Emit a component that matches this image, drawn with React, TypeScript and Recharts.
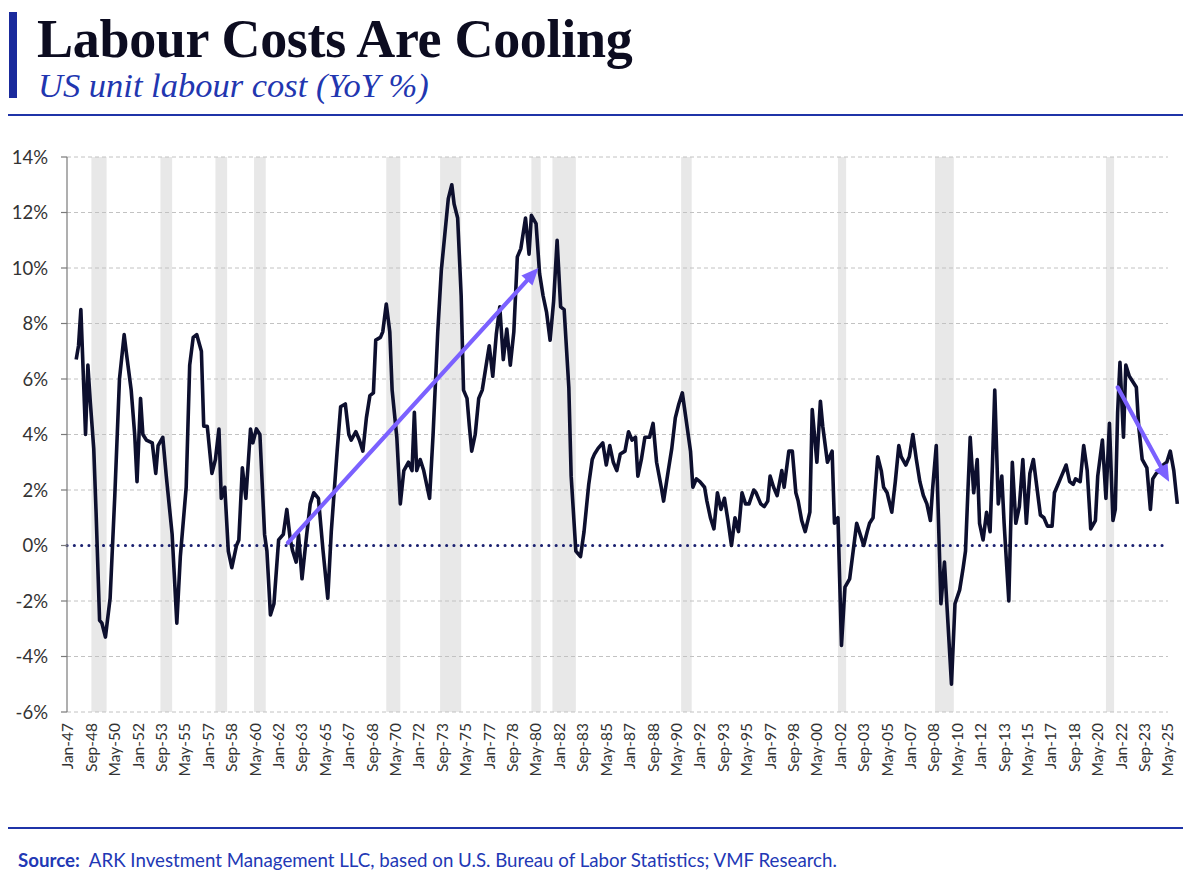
import React from 'react';
import { LineChart, Line, XAxis, YAxis, ReferenceArea, ReferenceLine } from 'recharts';

// months since Jan-1947 for each observation
const monthIndex = [
  7, 9, 11, 15, 17, 19, 22, 24, 27, 29,
  32, 36, 40, 44, 48, 50, 54, 57, 59, 62,
  64, 67, 72, 75, 77, 81, 84, 89, 93, 96,
  101, 104, 107, 110, 114, 116, 119, 123, 126, 129,
  131, 134, 137, 140, 144, 146, 149, 152, 156, 158,
  161, 164, 168, 170, 173, 176, 180, 184, 187, 190,
  192, 195, 197, 200, 204, 207, 210, 214, 218, 222,
  225, 230, 233, 237, 240, 242, 246, 249, 252, 255,
  258, 261, 263, 267, 269, 272, 275, 277, 281, 284,
  287, 291, 294, 296, 298, 301, 304, 309, 312, 316,
  319, 322, 325, 328, 330, 333, 336, 338, 341, 343,
  345, 348, 351, 354, 357, 360, 363, 366, 369, 372,
  375, 378, 381, 384, 387, 391, 394, 396, 400, 403,
  406, 409, 412, 415, 418, 421, 424, 428, 430, 434,
  438, 441, 445, 448, 450, 453, 457, 460, 463, 466,
  469, 472, 476, 479, 482, 485, 487, 490, 493, 497,
  500, 503, 507, 509, 513, 516, 519, 522, 525, 528,
  532, 534, 537, 540, 544, 546, 549, 552, 555, 558,
  561, 564, 567, 570, 573, 576, 579, 582, 586, 588,
  592, 595, 598, 600, 603, 606, 610, 612, 616, 619,
  622, 624, 627, 630, 634, 636, 640, 643, 645, 649,
  653, 655, 658, 661, 664, 668, 671, 674, 677, 680,
  683, 685, 688, 692, 695, 697, 700, 704, 707, 710,
  712, 716, 719, 722, 725, 728, 731, 734, 737, 739,
  742, 746, 749, 752, 755, 758, 762, 765, 767, 769,
  771, 774, 777, 779, 782, 785, 788, 790, 792, 795,
  798, 800, 804, 807, 810, 813, 816, 819, 822, 825,
  828, 831, 834, 837, 841, 843, 846, 849, 853, 856,
  859, 861, 865, 868, 871, 874, 878, 880, 884, 887,
  890, 893, 895, 897, 899, 902, 904, 907, 910, 913,
  915, 918, 922, 925, 927, 930, 933, 936, 939, 942,
  945, 948,
];

// US unit labour cost, YoY %
const yoy = [
  6.7, 7.2, 8.5, 4.0, 6.5, 5.2, 3.5, 1.2, -2.7, -2.8,
  -3.3, -1.9, 1.8, 6.0, 7.6, 6.9, 5.6, 4.0, 2.3, 5.3,
  4.0, 3.8, 3.7, 2.6, 3.6, 3.9, 2.5, 0.4, -2.8, -0.4,
  2.1, 6.5, 7.5, 7.6, 7.0, 4.3, 4.3, 2.6, 3.1, 4.2,
  1.7, 2.1, -0.2, -0.8, 0.0, 0.2, 2.8, 1.7, 4.2, 3.7,
  4.2, 4.0, 0.4, -0.2, -2.5, -2.1, 0.2, 0.4, 1.3, 0.2,
  -0.2, -0.6, 0.4, -1.2, 0.4, 1.5, 1.9, 1.7, -0.2, -1.9,
  0.5, 3.4, 5.0, 5.1, 4.0, 3.8, 4.1, 3.8, 3.4, 4.6,
  5.4, 5.5, 7.4, 7.5, 7.7, 8.7, 7.7, 5.6, 3.9, 1.5,
  2.7, 3.0, 2.7, 4.8, 2.7, 3.1, 2.7, 1.7, 4.0, 7.7,
  9.9, 11.2, 12.5, 13.0, 12.3, 11.8, 9.0, 5.6, 5.3, 4.3,
  3.4, 4.0, 5.3, 5.6, 6.4, 7.2, 6.1, 7.6, 8.6, 6.7,
  7.8, 6.5, 7.7, 10.4, 10.7, 11.8, 10.5, 11.9, 11.6, 9.8,
  9.0, 8.4, 7.4, 8.8, 11.0, 8.6, 8.5, 5.7, 2.5, -0.2,
  -0.4, 0.5, 2.2, 3.1, 3.3, 3.5, 3.7, 2.9, 3.6, 3.0,
  2.7, 3.3, 3.4, 4.1, 3.8, 3.9, 2.5, 3.1, 3.9, 3.9,
  4.4, 3.0, 2.1, 1.6, 2.7, 3.5, 4.6, 5.1, 5.5, 4.6,
  3.4, 2.1, 2.4, 2.3, 2.1, 1.6, 1.0, 0.6, 1.9, 1.3,
  1.7, 0.9, 0.0, 1.0, 0.5, 1.9, 1.5, 1.5, 2.0, 1.9,
  1.5, 1.4, 1.6, 2.5, 2.1, 1.8, 2.7, 2.1, 3.4, 3.4,
  1.9, 1.6, 0.9, 0.5, 1.2, 4.9, 3.0, 5.2, 4.3, 3.0,
  3.4, 0.8, 1.0, -3.6, -1.5, -1.2, -0.2, 0.8, 0.4, 0.0,
  0.5, 0.8, 1.0, 3.2, 2.7, 2.1, 1.9, 1.2, 2.3, 3.6,
  3.2, 2.9, 3.2, 4.0, 3.1, 2.3, 1.8, 1.5, 0.9, 2.1,
  3.6, -2.1, -0.6, -2.8, -5.0, -2.1, -1.6, -0.8, -0.2, 1.9,
  3.9, 1.9, 3.1, 0.8, 0.2, 1.2, 0.5, 2.9, 5.6, 1.5,
  2.5, 0.8, -2.0, 3.0, 0.8, 1.4, 3.1, 0.8, 2.6, 3.1,
  2.1, 1.1, 1.0, 0.7, 0.7, 1.9, 2.2, 2.5, 2.9, 2.3,
  2.2, 2.4, 2.3, 3.6, 2.7, 0.6, 0.9, 2.5, 3.8, 1.7,
  4.4, 0.9, 1.3, 4.8, 6.6, 3.9, 6.5, 6.1, 5.9, 5.7,
  4.3, 3.1, 2.8, 1.3, 2.4, 2.6, 2.7, 2.9, 3.0, 3.4,
  2.7, 1.5,
];

const xTickMonths = [
  0, 20, 40, 60, 80, 100, 120, 140, 160, 180, 200, 220, 240, 260, 280, 300,
  320, 340, 360, 380, 400, 420, 440, 460, 480, 500, 520, 540, 560, 580, 600, 620,
  640, 660, 680, 700, 720, 740, 760, 780, 800, 820, 840, 860, 880, 900, 920, 940,
];
const xTickLabels = [
  'Jan-47', 'Sep-48', 'May-50', 'Jan-52', 'Sep-53', 'May-55', 'Jan-57', 'Sep-58',
  'May-60', 'Jan-62', 'Sep-63', 'May-65', 'Jan-67', 'Sep-68', 'May-70', 'Jan-72',
  'Sep-73', 'May-75', 'Jan-77', 'Sep-78', 'May-80', 'Jan-82', 'Sep-83', 'May-85',
  'Jan-87', 'Sep-88', 'May-90', 'Jan-92', 'Sep-93', 'May-95', 'Jan-97', 'Sep-98',
  'May-00', 'Jan-02', 'Sep-03', 'May-05', 'Jan-07', 'Sep-08', 'May-10', 'Jan-12',
  'Sep-13', 'May-15', 'Jan-17', 'Sep-18', 'May-20', 'Jan-22', 'Sep-23', 'May-25',
];
const yTicks = [-6, -4, -2, 0, 2, 4, 6, 8, 10, 12, 14];

// recession shading (months since Jan-1947)
const recessionStart = [20, 79, 126, 159, 272, 318, 396, 414, 524, 658, 741, 887];
const recessionEnd = [33, 89, 136, 169, 284, 336, 404, 434, 533, 665, 757, 894];

// trend arrows: [month, value]
const arrowUpFrom = [188, 0.1];
const arrowUpTo = [402, 10.0];
const arrowDownFrom = [897, 5.7];
const arrowDownTo = [941, 2.3];

const X_MIN = -0.85;
const X_MAX = 950.3;
const GRID_END = 940;

const data = monthIndex.map((m, i) => ({ m, v: yoy[i] }));

const LINE_COLOR = '#0d0f2e';
const ARROW_COLOR = '#7b61ff';
const BLUE = '#1f34a8';

const XTick = (props: any) => {
  const { x, payload } = props;
  const idx = xTickMonths.indexOf(payload.value);
  const label = idx >= 0 ? xTickLabels[idx] : '';
  return (
    <g transform={`translate(${x},${712})`}>
      <text
        transform="rotate(-90)"
        x={-11}
        y={0}
        dy="0.35em"
        textAnchor="end"
        fontFamily="Lato, 'Open Sans', sans-serif"
        fontSize={15.5}
        fill="#333"
      >
        {label}
      </text>
    </g>
  );
};

const ArrowShape = (p: any) => {
  const { x1, y1, x2, y2 } = p;
  if ([x1, y1, x2, y2].some((n) => typeof n !== 'number' || isNaN(n))) return <g />;
  const ang = Math.atan2(y2 - y1, x2 - x1);
  const L = 17;
  const W = 7.5;
  const bx = x2 - L * Math.cos(ang);
  const by = y2 - L * Math.sin(ang);
  const px = -Math.sin(ang) * W;
  const py = Math.cos(ang) * W;
  return (
    <g>
      <line x1={x1} y1={y1} x2={bx} y2={by} stroke={ARROW_COLOR} strokeWidth={4.2} strokeLinecap="round" />
      <polygon points={`${x2},${y2} ${bx + px},${by + py} ${bx - px},${by - py}`} fill={ARROW_COLOR} />
    </g>
  );
};

export default function App() {
  return (
    <div
      style={{
        position: 'absolute',
        left: 0,
        top: 0,
        width: 1191,
        height: 883,
        background: '#ffffff',
        overflow: 'hidden',
      }}
    >
      <svg width={1191} height={883} style={{ position: 'absolute', left: 0, top: 0 }}>
        <rect x={9} y={12} width={8} height={86} fill="#1a2a9c" />
        <text
          x={37}
          y={57}
          fontFamily="'Liberation Serif', 'DejaVu Serif', serif"
          fontWeight={700}
          fontSize={54}
          fill="#0c0c20"
          letterSpacing={-0.3}
        >
          Labour Costs Are Cooling
        </text>
        <text
          x={38}
          y={97}
          fontFamily="'Liberation Serif', 'DejaVu Serif', serif"
          fontStyle="italic"
          fontSize={34.5}
          fill="#2236b0"
        >
          US unit labour cost (YoY %)
        </text>
        <line x1={8} y1={115} x2={1183} y2={115} stroke={BLUE} strokeWidth={2} />
        <line x1={8} y1={828} x2={1183} y2={828} stroke={BLUE} strokeWidth={2} />
        <text x={18} y={867} fontFamily="Lato, 'Open Sans', sans-serif" fontSize={18.7} fill="#2238b5">
          <tspan fontWeight={700}>Source:</tspan>
          <tspan dx={9}>ARK Investment Management LLC, based on U.S. Bureau of Labor Statistics; VMF Research.</tspan>
        </text>
      </svg>
      <div style={{ position: 'absolute', left: 0, top: 0 }}>
        <LineChart
          width={1191}
          height={782}
          data={data}
          margin={{ top: 157, right: 11, bottom: 0, left: 0 }}
        >
          <XAxis
            dataKey="m"
            type="number"
            domain={[X_MIN, X_MAX]}
            ticks={xTickMonths}
            interval={0}
            axisLine={false}
            tickLine={false}
            height={70}
            tick={<XTick />}
          />
          <YAxis
            type="number"
            domain={[-6, 14]}
            ticks={yTicks}
            interval={0}
            width={67}
            tickFormatter={(v: number) => `${v}%`}
            tick={{ fontFamily: "Lato, 'Open Sans', sans-serif", fontSize: 18.5, fill: '#333' }}
            axisLine={{ stroke: '#7a7a7a', strokeWidth: 1.2 }}
            tickLine={{ stroke: '#7a7a7a', strokeWidth: 1.2 }}
            tickSize={6}
            tickMargin={13}
          />
          {recessionStart.map((s, i) => (
            <ReferenceArea
              key={`r${i}`}
              x1={s}
              x2={recessionEnd[i]}
              y1={-6}
              y2={14}
              fill="#e8e8e8"
              fillOpacity={1}
              stroke="none"
              ifOverflow="visible"
            />
          ))}
          {yTicks
            .filter((t) => t !== 0)
            .map((t) => (
              <ReferenceLine
                key={`g${t}`}
                segment={[
                  { x: X_MIN, y: t },
                  { x: GRID_END, y: t },
                ]}
                stroke="#c2c2c2"
                strokeWidth={1}
                strokeDasharray="4 3"
                ifOverflow="visible"
              />
            ))}
          <ReferenceLine
            segment={[
              { x: X_MIN, y: 0 },
              { x: GRID_END, y: 0 },
            ]}
            stroke="#1b2170"
            strokeWidth={3}
            strokeDasharray="0.1 7.2"
            strokeLinecap="round"
            ifOverflow="visible"
          />
          <Line
            dataKey="v"
            type="linear"
            stroke={LINE_COLOR}
            strokeWidth={3.6}
            strokeLinejoin="round"
            dot={false}
            activeDot={false}
            isAnimationActive={false}
          />
          <ReferenceLine
            segment={[
              { x: arrowUpFrom[0], y: arrowUpFrom[1] },
              { x: arrowUpTo[0], y: arrowUpTo[1] },
            ]}
            ifOverflow="visible"
            shape={(p: any) => <ArrowShape {...p} />}
          />
          <ReferenceLine
            segment={[
              { x: arrowDownFrom[0], y: arrowDownFrom[1] },
              { x: arrowDownTo[0], y: arrowDownTo[1] },
            ]}
            ifOverflow="visible"
            shape={(p: any) => <ArrowShape {...p} />}
          />
        </LineChart>
      </div>
    </div>
  );
}
